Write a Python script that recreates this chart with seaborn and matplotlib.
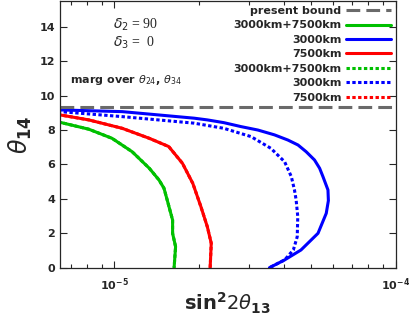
import numpy as np
import pandas as pd
import matplotlib
matplotlib.use("Agg")
import matplotlib.pyplot as plt
import seaborn as sns
from matplotlib.lines import Line2D
from matplotlib.ticker import LogLocator, NullFormatter, FixedLocator, FixedFormatter

sns.set_style("ticks")
plt.rcParams['font.family'] = ['DejaVu Sans']
plt.rcParams['mathtext.fontset'] = 'dejavusans'

# ---- data (sin^2 2theta13 in units of 1e-5, theta14 in degrees) ----
present_bound = 9.35

green_x = [0.60, 0.64, 0.81, 0.98, 1.156, 1.33, 1.44, 1.50, 1.54, 1.61, 1.61, 1.65, 1.63]
green_y = [8.55, 8.45, 8.05, 7.52, 6.74, 5.78, 5.10, 4.62, 3.94, 2.77, 2.00, 1.22, 0.00]

red_x = [0.60, 0.64, 0.81, 1.066, 1.33, 1.56, 1.745, 1.90, 2.03, 2.14, 2.21, 2.19]
red_y = [8.95, 8.88, 8.59, 8.10, 7.52, 7.04, 6.07, 4.90, 3.55, 2.38, 1.42, 0.00]

blue_x = [0.60, 0.64, 1.066, 1.92, 2.14, 2.45, 2.82, 3.24, 3.71, 4.14, 4.50, 4.81, 5.15,
          5.37, 5.52, 5.75, 5.77, 5.67, 5.30, 4.61, 4.03, 3.56]
blue_y = [9.20, 9.17, 9.07, 8.69, 8.59, 8.43, 8.20, 8.00, 7.72, 7.42, 7.13, 6.74, 6.26,
          5.78, 5.29, 4.52, 3.90, 3.16, 2.00, 1.03, 0.45, 0.00]

bluedot_x = [0.60, 0.64, 1.066, 1.92, 2.45, 3.06, 3.60, 4.03, 4.26, 4.37, 4.43, 4.49, 4.47, 4.33, 4.03, 3.56]
bluedot_y = [9.12, 9.07, 8.78, 8.40, 8.10, 7.62, 6.94, 6.16, 5.29, 4.52, 3.94, 2.97, 1.80, 1.03, 0.45, 0.00]

labels = ["present bound", "3000km+7500km", "3000km", "7500km",
          "3000km+7500km", "3000km", "7500km"]

GREEN = "#00c000"
BLUE = "#0000ff"
RED = "#ff0000"
GRAY = "#6a6a6a"
LW = 2.2
DOT = (0, (1.1, 0.8))
DASH = (0, (4.5, 2))

fig = plt.figure(figsize=(4.09, 3.16), dpi=100)
ax = fig.add_axes([60/409, 1-267.7/316, 335.5/409, 266.7/316])

def sc(v):
    return np.array(v) * 1e-5

# dotted green / red lie under solid ones (drawn first)
sns.lineplot(x=sc(green_x), y=green_y, sort=False, estimator=None, ax=ax,
             color=GREEN, linewidth=LW, linestyle=DOT, legend=False)
sns.lineplot(x=sc(red_x), y=red_y, sort=False, estimator=None, ax=ax,
             color=RED, linewidth=LW, linestyle=DOT, legend=False)
sns.lineplot(x=sc(green_x), y=green_y, sort=False, estimator=None, ax=ax,
             color=GREEN, linewidth=LW, legend=False)
sns.lineplot(x=sc(red_x), y=red_y, sort=False, estimator=None, ax=ax,
             color=RED, linewidth=LW, legend=False)
sns.lineplot(x=sc(bluedot_x), y=bluedot_y, sort=False, estimator=None, ax=ax,
             color=BLUE, linewidth=LW, linestyle=DOT, legend=False)
sns.lineplot(x=sc(blue_x), y=blue_y, sort=False, estimator=None, ax=ax,
             color=BLUE, linewidth=LW, legend=False)
ax.axhline(present_bound, color=GRAY, linewidth=LW, linestyle=DASH)

ax.set_xscale("log")
ax.set_xlim(6.4e-6, 1.0e-4)
ax.set_ylim(0, 15.5)

ax.xaxis.set_major_locator(FixedLocator([1e-5, 1e-4]))
ax.xaxis.set_major_formatter(FixedFormatter([r"$\mathbf{10^{-5}}$", r"$\mathbf{10^{-4}}$"]))
ax.xaxis.set_minor_locator(LogLocator(base=10, subs=np.arange(2, 10)))
ax.xaxis.set_minor_formatter(NullFormatter())
ax.set_yticks(np.arange(0, 15, 2))

ax.tick_params(axis="both", which="major", direction="in", length=5, width=0.8,
               top=True, right=True, labelsize=8)
ax.tick_params(axis="both", which="minor", direction="in", length=3, width=0.8,
               top=True, right=True)
ax.tick_params(axis="x", which="major", pad=6)
for t in ax.get_yticklabels():
    t.set_fontweight("bold")
for s in ax.spines.values():
    s.set_linewidth(0.9)

ax.set_xlabel(r"$\mathbf{sin^2}2\theta_{\mathbf{13}}$", fontsize=14, labelpad=-1)
ax.set_ylabel(r"$\theta_{\mathbf{14}}$", fontsize=17, labelpad=4)

ax.text(0.158, 0.91, r"$\delta_2$ = 90", transform=ax.transAxes, fontsize=10,
        family="Liberation Serif", va="center", ha="left")
ax.text(0.158, 0.843, r"$\delta_3$ =  0", transform=ax.transAxes, fontsize=10,
        family="Liberation Serif", va="center", ha="left")
ax.text(0.03, 0.704, r"marg over $\theta_{24}$, $\theta_{34}$", transform=ax.transAxes,
        fontsize=8, fontweight="bold", va="center", ha="left")

handles = [
    Line2D([], [], color=GRAY, lw=LW, linestyle=DASH),
    Line2D([], [], color=GREEN, lw=LW),
    Line2D([], [], color=BLUE, lw=LW),
    Line2D([], [], color=RED, lw=LW),
    Line2D([], [], color=GREEN, lw=LW, linestyle=DOT),
    Line2D([], [], color=BLUE, lw=LW, linestyle=DOT),
    Line2D([], [], color=RED, lw=LW, linestyle=DOT),
]
leg = ax.legend(handles, labels, loc="upper right", frameon=False, markerfirst=False,
                prop={"weight": "bold", "size": 8}, handlelength=4, handletextpad=0.4,
                labelspacing=0.4, borderaxespad=0.35, borderpad=0.1)

fig.savefig("out.png", dpi=100)
